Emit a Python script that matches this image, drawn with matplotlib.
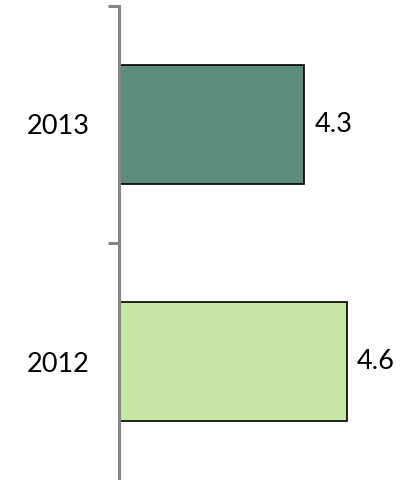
import matplotlib.pyplot as plt

years = ['2012', '2013']
values = [4.6, 4.3]
colors = ['#C8E6A4', '#5E8C7B']

plt.rcParams['font.family'] = ['Lato', 'DejaVu Sans']

fig = plt.figure(figsize=(4.12, 4.8), dpi=100)
ax = fig.add_axes([119 / 412, 0.0, (404 - 119) / 412, 1 - 6 / 480])

pos = range(len(years))
ax.barh(pos, values, height=0.5, color=colors, edgecolor='black', linewidth=1.2)
for p, v in zip(pos, values):
    ax.text(v + 0.07, p, f'{v}', va='center', ha='left', fontsize=19.5)

ax.set_xlim(3, 5)
ax.set_ylim(-0.5, 1.5)
ax.set_yticks(list(pos))
ax.set_yticklabels(years, fontsize=19.5)
ax.set_yticks([0.5, 1.5], minor=True)
ax.tick_params(axis='y', which='major', length=0, pad=21)
ax.tick_params(axis='y', which='minor', length=8, width=2.2, color='#868686')
ax.set_xticks([])
for s in ['top', 'right', 'bottom']:
    ax.spines[s].set_visible(False)
ax.spines['left'].set_color('#868686')
ax.spines['left'].set_linewidth(2.2)

fig.savefig('out.png', dpi=100)
